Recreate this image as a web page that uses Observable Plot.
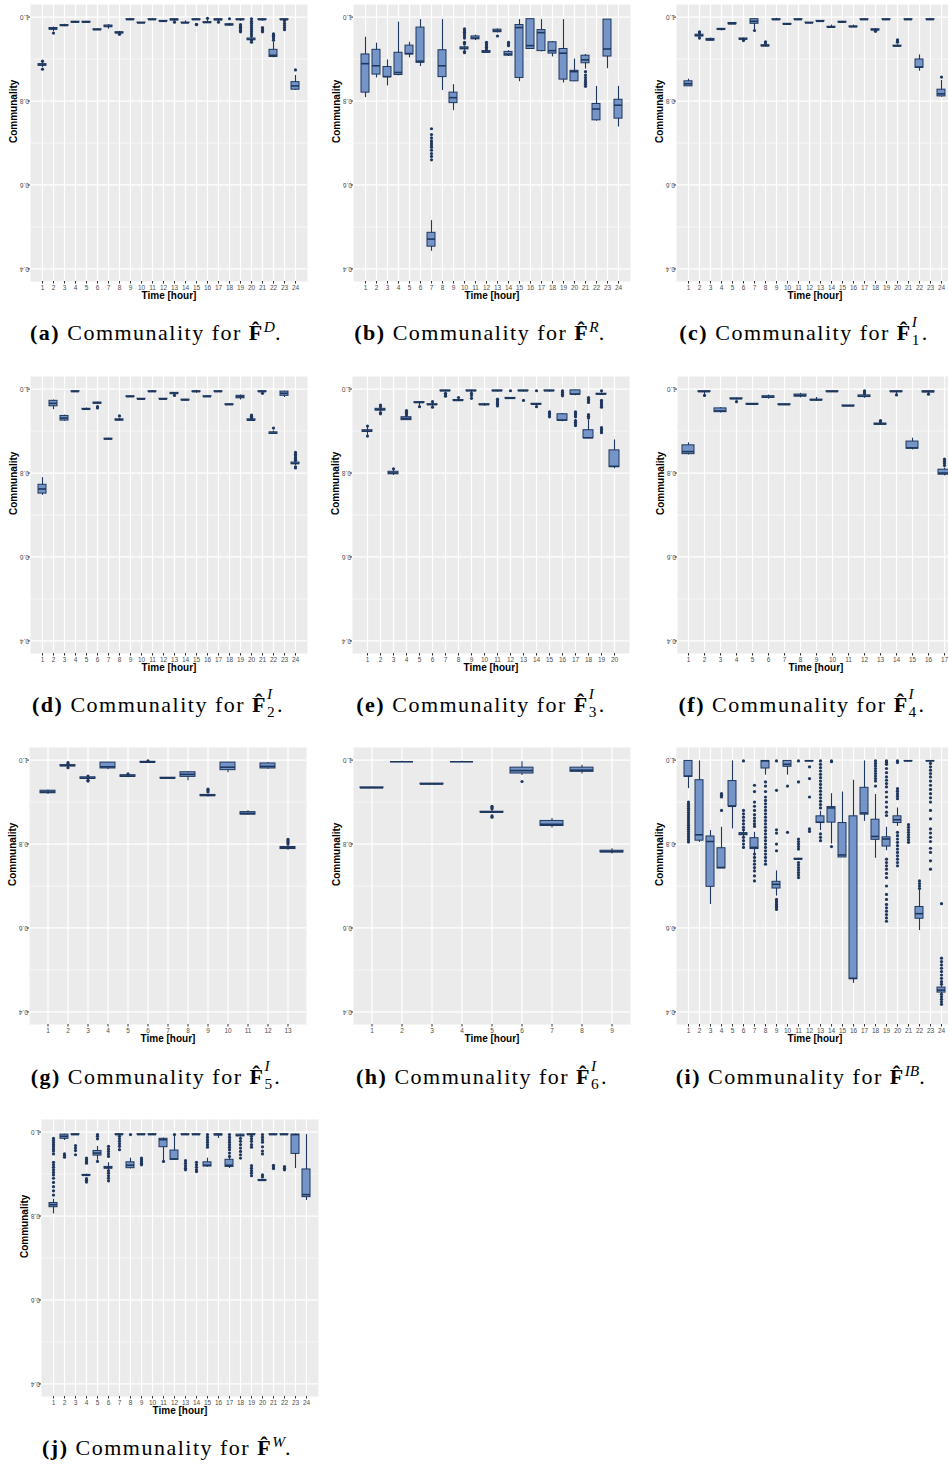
<!DOCTYPE html>
<html><head><meta charset="utf-8">
<script src="https://cdn.jsdelivr.net/npm/d3@7"></script>
<script src="https://cdn.jsdelivr.net/npm/@observablehq/plot@0.6"></script>
<style>
html,body{margin:0;padding:0;background:#fff;}
body{width:948px;height:1465px;overflow:hidden;position:relative;}
.panel{position:absolute;}
.panel svg{max-width:none !important;}
.cap{position:absolute;width:360px;font-family:"Liberation Serif","DejaVu Serif",serif;font-size:22px;letter-spacing:1.5px;line-height:24px;text-align:center;white-space:nowrap;color:#000;}
.cap sup{font-size:0.7em;vertical-align:0.5em;line-height:0;letter-spacing:0;}
.ss{display:inline-block;position:relative;width:0.45em;height:0.75em;vertical-align:baseline;}
.ss .p{position:absolute;left:0;top:-0.6em;font-size:0.7em;line-height:1;font-style:italic;letter-spacing:0;}
.ss .b{position:absolute;left:0;top:0.55em;font-size:0.7em;line-height:1;letter-spacing:0;}
</style></head><body>
<script>
// ---- Data: per hour [lower whisker, Q1, median, Q3, upper whisker]; outliers as [hour, [values]] ----
const boxA = [
[0.880,0.884,0.886,0.888,0.892],[0.965,0.970,0.972,0.974,0.976],[0.977,0.979,0.980,0.981,0.983],[0.985,0.987,0.988,0.989,0.990],
[0.985,0.987,0.988,0.989,0.990],[0.968,0.969,0.970,0.971,0.972],[0.971,0.976,0.978,0.980,0.982],[0.958,0.961,0.963,0.964,0.966],
[0.993,0.994,0.994,0.995,0.995],[0.985,0.986,0.986,0.987,0.987],[0.993,0.994,0.994,0.995,0.995],[0.989,0.990,0.990,0.991,0.991],
[0.987,0.992,0.994,0.995,0.995],[0.985,0.986,0.986,0.987,0.991],[0.992,0.993,0.994,0.995,0.995],[0.985,0.986,0.987,0.988,0.997],
[0.987,0.992,0.994,0.995,0.995],[0.978,0.980,0.982,0.983,0.985],[0.990,0.993,0.994,0.995,0.995],[0.942,0.945,0.947,0.949,0.952],
[0.990,0.993,0.994,0.995,0.995],[0.903,0.905,0.909,0.922,0.940],[0.990,0.993,0.994,0.995,0.995],[0.825,0.827,0.836,0.845,0.861]];
const outA = [[1,[0.895,0.876]],[2,[0.962]],[8,[0.959]],[13,[0.988]],[15,[0.982,0.983]],[16,[0.997]],[17,[0.988]],[18,[0.996]],
[19,[0.982,0.979,0.976,0.972,0.968,0.965]],[20,[0.996,0.990,0.985,0.980,0.975,0.970,0.965,0.960,0.955,0.944,0.940]],
[21,[0.975,0.972,0.968,0.965]],[22,[0.945,0.950,0.954,0.957,0.960]],[23,[0.991,0.985,0.980,0.975,0.970]],[24,[0.874]]];

const boxB = [
[0.808,0.820,0.889,0.911,0.952],[0.855,0.863,0.884,0.922,0.938],[0.836,0.857,0.858,0.881,0.898],[0.860,0.862,0.868,0.915,0.988],
[0.903,0.911,0.913,0.932,0.940],[0.882,0.891,0.895,0.975,0.994],[0.442,0.453,0.471,0.486,0.515],[0.825,0.857,0.884,0.921,0.994],
[0.777,0.795,0.808,0.820,0.839],[0.920,0.923,0.926,0.928,0.931],[0.944,0.947,0.950,0.954,0.957],[0.914,0.915,0.917,0.919,0.921],
[0.962,0.964,0.967,0.970,0.972],[0.906,0.908,0.912,0.917,0.920],[0.846,0.855,0.975,0.981,0.994],[0.924,0.924,0.932,0.995,0.995],
[0.917,0.919,0.963,0.969,0.994],[0.905,0.913,0.920,0.940,0.942],[0.843,0.851,0.914,0.924,0.994],[0.846,0.847,0.870,0.872,0.900],
[0.876,0.890,0.898,0.908,0.911],[0.752,0.754,0.781,0.793,0.835],[0.877,0.906,0.924,0.994,0.994],[0.738,0.758,0.790,0.803,0.835]];
const outB = [[7,[0.734,0.720,0.712,0.705,0.700,0.695,0.690,0.683,0.675,0.668,0.660]],
[10,[0.972,0.968,0.964,0.960,0.955,0.950,0.940,0.936,0.918,0.915]],[12,[0.940,0.936,0.932,0.928,0.924]],[13,[0.955]],
[14,[0.940,0.936,0.932]],[21,[0.870,0.862,0.856,0.850,0.845,0.840,0.835]]];

const boxC = [
[0.835,0.835,0.841,0.847,0.852],[0.948,0.954,0.956,0.958,0.963],[0.943,0.944,0.946,0.948,0.950],[0.967,0.970,0.971,0.972,0.973],
[0.982,0.983,0.984,0.986,0.987],[0.942,0.946,0.948,0.949,0.950],[0.970,0.984,0.990,0.995,0.995],[0.929,0.930,0.932,0.933,0.936],
[0.992,0.993,0.994,0.995,0.997],[0.982,0.982,0.983,0.984,0.984],[0.993,0.994,0.994,0.995,0.995],[0.985,0.986,0.986,0.987,0.987],
[0.989,0.990,0.990,0.991,0.991],[0.974,0.975,0.976,0.977,0.981],[0.986,0.987,0.988,0.989,0.990],[0.975,0.976,0.977,0.978,0.981],
[0.993,0.994,0.994,0.995,0.995],[0.964,0.968,0.970,0.971,0.972],[0.993,0.994,0.994,0.995,0.995],[0.929,0.930,0.931,0.932,0.934],
[0.993,0.994,0.994,0.995,0.995],[0.871,0.879,0.881,0.899,0.910],[0.993,0.994,0.994,0.995,0.995],[0.809,0.811,0.817,0.827,0.849]];
const outC = [[2,[0.962,0.965,0.950]],[6,[0.944]],[7,[0.968]],[8,[0.938,0.941]],[18,[0.966]],[20,[0.940,0.943,0.946]],[24,[0.857]]];

const boxD = [
[0.747,0.751,0.762,0.772,0.789],[0.951,0.959,0.966,0.972,0.974],[0.923,0.925,0.931,0.936,0.938],[0.993,0.994,0.994,0.995,0.995],
[0.950,0.951,0.952,0.953,0.955],[0.963,0.965,0.967,0.968,0.969],[0.879,0.880,0.881,0.882,0.883],[0.924,0.925,0.927,0.928,0.930],
[0.980,0.981,0.982,0.983,0.984],[0.975,0.976,0.976,0.977,0.977],[0.993,0.994,0.994,0.995,0.995],[0.975,0.976,0.976,0.977,0.977],
[0.984,0.988,0.990,0.991,0.992],[0.972,0.973,0.974,0.975,0.976],[0.990,0.993,0.994,0.995,0.997],[0.981,0.982,0.982,0.983,0.983],
[0.993,0.994,0.994,0.995,0.995],[0.962,0.962,0.963,0.964,0.964],[0.974,0.978,0.982,0.984,0.986],[0.924,0.925,0.926,0.928,0.930],
[0.990,0.993,0.994,0.995,0.995],[0.892,0.893,0.895,0.897,0.900],[0.980,0.984,0.990,0.994,0.995],[0.818,0.821,0.823,0.825,0.828]];
const outD = [[6,[0.958,0.955]],[8,[0.936]],[13,[0.985]],[20,[0.932,0.935,0.938]],[21,[0.990]],[22,[0.907]],
[24,[0.849,0.845,0.841,0.837,0.833,0.830,0.815,0.812]]];

const boxE = [
[0.890,0.898,0.900,0.902,0.910],[0.946,0.949,0.951,0.953,0.956],[0.794,0.797,0.800,0.803,0.806],[0.926,0.926,0.930,0.933,0.935],
[0.960,0.967,0.968,0.969,0.970],[0.959,0.962,0.963,0.964,0.966],[0.993,0.995,0.996,0.997,0.997],[0.970,0.972,0.973,0.974,0.976],
[0.990,0.995,0.996,0.997,0.997],[0.959,0.962,0.963,0.964,0.966],[0.993,0.995,0.996,0.997,0.997],[0.976,0.977,0.978,0.979,0.980],
[0.993,0.995,0.996,0.997,0.997],[0.960,0.963,0.964,0.965,0.966],[0.993,0.995,0.996,0.997,0.997],[0.922,0.925,0.926,0.940,0.942],
[0.984,0.987,0.988,0.997,0.997],[0.881,0.883,0.884,0.902,0.926],[0.985,0.987,0.988,0.989,0.991],[0.810,0.814,0.816,0.854,0.879]];
const outE = [[1,[0.912,0.888]],[2,[0.962,0.958,0.941,0.944]],[3,[0.810]],[4,[0.949,0.945,0.941,0.938]],[5,[0.958]],[6,[0.970,0.957]],
[7,[0.990,0.986,0.983]],[8,[0.980]],[9,[0.990,0.985,0.978]],[11,[0.976,0.972,0.968,0.964,0.960]],[12,[0.996]],[13,[0.973]],
[14,[0.996,0.958]],[15,[0.946,0.942,0.938,0.934]],[16,[0.996,0.992,0.988,0.984]],[17,[0.946,0.942,0.938,0.934,0.925,0.921,0.917,0.913]],
[18,[0.939,0.935,0.931,0.980,0.976,0.972,0.968]],[19,[0.996,0.973,0.969,0.965,0.961,0.957,0.908,0.904,0.900,0.896]]];

const boxF = [
[0.843,0.845,0.851,0.866,0.872],[0.982,0.993,0.994,0.995,0.995],[0.943,0.945,0.948,0.954,0.956],[0.974,0.976,0.977,0.978,0.979],
[0.963,0.963,0.964,0.965,0.965],[0.976,0.979,0.981,0.983,0.986],[0.962,0.962,0.963,0.964,0.964],[0.979,0.982,0.985,0.987,0.990],
[0.971,0.973,0.974,0.975,0.980],[0.993,0.994,0.994,0.995,0.995],[0.959,0.959,0.960,0.961,0.961],[0.978,0.981,0.983,0.985,0.987],
[0.914,0.915,0.917,0.918,0.920],[0.984,0.993,0.994,0.995,0.995],[0.855,0.858,0.860,0.875,0.883],[0.986,0.992,0.994,0.995,0.995],
[0.793,0.796,0.800,0.808,0.812]];
const outF = [[2,[0.985]],[4,[0.970]],[12,[0.996,0.993,0.989]],[13,[0.925,0.922]],[14,[0.986]],[16,[0.988]],[17,[0.833,0.828,0.823,0.818]]];

const boxG = [
[0.918,0.921,0.924,0.927,0.929],[0.982,0.985,0.987,0.988,0.990],[0.953,0.955,0.957,0.959,0.961],[0.977,0.980,0.984,0.994,0.995],
[0.958,0.960,0.962,0.964,0.966],[0.992,0.994,0.995,0.996,0.997],[0.956,0.956,0.957,0.958,0.958],[0.951,0.960,0.966,0.971,0.973],
[0.912,0.914,0.916,0.917,0.918],[0.970,0.976,0.983,0.994,0.995],[0.869,0.870,0.873,0.876,0.879],[0.978,0.980,0.985,0.992,0.994],
[0.785,0.788,0.791,0.793,0.796]];
const outG = [[2,[0.994,0.991,0.982]],[3,[0.962,0.952,0.950]],[5,[0.967]],[6,[0.998]],[9,[0.924,0.928,0.931]],[13,[0.800,0.804,0.808,0.811]]];

const boxH = [
[0.933,0.933,0.934,0.935,0.935],[0.995,0.996,0.996,0.996,0.997],[0.941,0.942,0.943,0.944,0.944],[0.995,0.996,0.996,0.996,0.997],
[0.873,0.875,0.876,0.877,0.879],[0.963,0.968,0.975,0.982,0.996],[0.838,0.843,0.847,0.855,0.861],[0.967,0.972,0.976,0.982,0.988],
[0.776,0.780,0.782,0.784,0.789]];
const outH = [[5,[0.890,0.887,0.884,0.867,0.864]],[6,[0.949]]];

const boxI = [
[0.932,0.960,0.962,0.998,0.998],[0.804,0.808,0.822,0.952,0.998],[0.656,0.698,0.806,0.818,0.832],[0.742,0.742,0.744,0.790,0.840],
[0.836,0.890,0.890,0.950,0.998],[0.818,0.821,0.824,0.826,0.830],[0.772,0.788,0.792,0.814,0.828],[0.964,0.980,0.998,0.998,0.998],
[0.676,0.694,0.704,0.710,0.736],[0.964,0.984,0.990,0.998,0.998],[0.762,0.763,0.764,0.765,0.766],[0.996,0.997,0.998,0.998,0.998],
[0.832,0.850,0.852,0.866,0.878],[0.800,0.851,0.886,0.888,0.920],[0.768,0.768,0.774,0.850,0.924],[0.468,0.478,0.480,0.866,0.952],
[0.854,0.870,0.874,0.934,0.998],[0.766,0.810,0.818,0.858,0.918],[0.784,0.794,0.812,0.816,0.840],[0.842,0.850,0.858,0.866,0.886],
[0.996,0.997,0.998,0.998,0.998],[0.594,0.622,0.634,0.650,0.692],[0.996,0.997,0.998,0.998,0.998],[0.440,0.446,0.452,0.458,0.462]];
const outI = [
[1,[0.900,0.895,0.890,0.885,0.880,0.875,0.870,0.865,0.860,0.855,0.850,0.845,0.840,0.835,0.830,0.825,0.820,0.815,0.810,0.805]],
[4,[0.920,0.916,0.912,0.880]],
[6,[0.998,0.880,0.872,0.864,0.856,0.848,0.840,0.834,0.816,0.808,0.800,0.792]],
[7,[0.940,0.925,0.900,0.890,0.880,0.870,0.862,0.855,0.848,0.842,0.776,0.768,0.760,0.752,0.744,0.736,0.724,0.712]],
[8,[0.948,0.938,0.925,0.912,0.904,0.896,0.888,0.880,0.872,0.864,0.856,0.848,0.840,0.832,0.824,0.816,0.808,0.800,0.792,0.784,0.776,0.768,0.760,0.752]],
[9,[0.998,0.928,0.834,0.826,0.800,0.784,0.668,0.664,0.660,0.656,0.652,0.648,0.644]],
[10,[0.938,0.828]],
[11,[0.998,0.948,0.812,0.806,0.800,0.794,0.788,0.756,0.750,0.744,0.738,0.732,0.726,0.720]],
[12,[0.984,0.956,0.912,0.836,0.830]],
[13,[0.998,0.990,0.982,0.974,0.966,0.958,0.950,0.942,0.934,0.926,0.918,0.910,0.902,0.894,0.886,0.824,0.816,0.808]],
[14,[0.998,0.996,0.794]],
[18,[0.998,0.992,0.986,0.980,0.974,0.968,0.962,0.956,0.950,0.938]],
[19,[0.998,0.994,0.990,0.980,0.970,0.960,0.952,0.944,0.936,0.924,0.912,0.900,0.888,0.876,0.868,0.764,0.756,0.748,0.740,0.730,0.720,0.700,0.680,0.668,0.656,0.648,0.640,0.632,0.624,0.616]],
[20,[0.998,0.994,0.932,0.926,0.920,0.914,0.908,0.828,0.820,0.812,0.804,0.796,0.788,0.780,0.772,0.764,0.756,0.748]],
[21,[0.846,0.840,0.834,0.828,0.822,0.816,0.810,0.804]],
[22,[0.712,0.706,0.700,0.694]],
[23,[0.992,0.984,0.976,0.968,0.960,0.950,0.940,0.930,0.920,0.910,0.900,0.880,0.860,0.836,0.826,0.816,0.806,0.790,0.780,0.760,0.740]],
[24,[0.658,0.528,0.520,0.512,0.504,0.496,0.488,0.480,0.472,0.466,0.442,0.436,0.430,0.424,0.418]]];

const boxJ = [
[0.805,0.821,0.827,0.831,0.840],[0.980,0.984,0.990,0.994,0.995],[0.993,0.994,0.994,0.995,0.995],[0.894,0.896,0.897,0.898,0.900],
[0.933,0.944,0.950,0.955,0.966],[0.905,0.913,0.915,0.917,0.927],[0.993,0.994,0.994,0.995,0.995],[0.912,0.914,0.921,0.928,0.938],
[0.993,0.994,0.994,0.995,0.995],[0.993,0.994,0.994,0.995,0.995],[0.930,0.964,0.982,0.984,0.986],[0.934,0.934,0.936,0.956,0.994],
[0.993,0.994,0.994,0.995,0.995],[0.993,0.994,0.994,0.995,0.995],[0.916,0.918,0.921,0.928,0.938],[0.985,0.992,0.994,0.995,0.995],
[0.913,0.917,0.921,0.934,0.943],[0.988,0.990,0.992,0.994,0.995],[0.993,0.994,0.994,0.995,0.995],[0.883,0.884,0.885,0.886,0.887],
[0.993,0.994,0.994,0.995,0.995],[0.993,0.994,0.994,0.995,0.995],[0.913,0.948,0.994,0.994,0.995],[0.837,0.845,0.851,0.911,0.994]];
const outJ = [
[1,[0.985,0.980,0.975,0.970,0.965,0.960,0.955,0.948,0.928,0.922,0.916,0.910,0.904,0.898,0.890,0.880,0.870,0.860,0.850]],
[2,[0.948,0.944,0.940]],[3,[0.968,0.962,0.956,0.946]],[4,[0.938,0.934,0.930,0.926,0.889,0.885,0.881]],[5,[0.994,0.990,0.984,0.930]],
[6,[0.966,0.960,0.954,0.948,0.942,0.908,0.902,0.896,0.890,0.884]],[7,[0.990,0.984,0.978,0.972,0.966,0.958]],[8,[0.994]],
[9,[0.938,0.934,0.930,0.926,0.922]],[11,[0.930]],[12,[0.994]],[13,[0.932,0.926,0.920,0.914,0.910]],[14,[0.928,0.922,0.916,0.910,0.906]],
[15,[0.994,0.988,0.982,0.976,0.970,0.964]],[17,[0.994,0.988,0.982,0.976,0.970,0.964,0.958,0.950,0.942]],
[18,[0.985,0.978,0.970,0.962,0.954,0.946,0.938]],[19,[0.990,0.984,0.978,0.970,0.964,0.920,0.914,0.908,0.902,0.896]],
[20,[0.994,0.988,0.982,0.976,0.965,0.955,0.948,0.898,0.893]],[21,[0.921,0.917,0.913]],[22,[0.918,0.914,0.910]]];

const yTicks = [0.4, 0.6, 0.8, 1.0];
const yMinor = [0.5, 0.7, 0.9];
const yDomain = [0.37, 1.03];
const xLabel = "Time [hour]";
const yLabel = "Communality";

// caption pieces: letter, superscript, subscript
const captions = [
  ["a","D",null],["b","R",null],["c","I","1"],["d","I","2"],["e","I","3"],
  ["f","I","4"],["g","I","5"],["h","I","6"],["i","IB",null],["j","W",null]];

// ---- Layout ----
const FW = 277, FH = 277, ML = 30, MR = 4, MT = 4, MB = 24;
const panels = [
  {box:boxA,out:outA,fx:30, fy:4,   cx:156,cy:321},
  {box:boxB,out:outB,fx:353,fy:4,   cx:480,cy:321},
  {box:boxC,out:outC,fx:676,fy:4,   cx:804,cy:321},
  {box:boxD,out:outD,fx:30, fy:376, cx:158,cy:693},
  {box:boxE,out:outE,fx:352,fy:376, cx:481,cy:693},
  {box:boxF,out:outF,fx:677,fy:376, cx:802,cy:693},
  {box:boxG,out:outG,fx:29, fy:747, cx:156,cy:1065},
  {box:boxH,out:outH,fx:353,fy:747, cx:482,cy:1065},
  {box:boxI,out:outI,fx:676,fy:747, cx:801,cy:1065},
  {box:boxJ,out:outJ,fx:41, fy:1119,cx:167,cy:1436}];

const FILL = "#7595C8", NAVY = "#1E375E";

panels.forEach((p, k) => {
  const hours = p.box.map((_, i) => i + 1);
  const rows = p.box.map((s, i) => ({hour: i + 1, lo: s[0], q1: s[1], med: s[2], q3: s[3], hi: s[4]}));
  const dots = p.out.flatMap(([h, vs]) => vs.map(v => ({hour: h, v})));
  const W = ML + FW + MR, H = MT + FH + MB;
  const chart = Plot.plot({
    width: W, height: H,
    marginLeft: ML, marginRight: MR, marginTop: MT, marginBottom: MB,
    style: {background: "transparent", fontFamily: "'Liberation Sans', Arial, sans-serif", overflow: "visible"},
    x: {type: "band", domain: hours, paddingInner: 0.25, paddingOuter: 0.225, axis: null},
    y: {domain: yDomain, axis: null},
    marks: [
      Plot.frame({fill: "#EBEBEB", stroke: "none"}),
      Plot.ruleY(yMinor, {stroke: "white", strokeWidth: 0.6}),
      Plot.ruleY(yTicks, {stroke: "white", strokeWidth: 1.2}),
      Plot.ruleX(hours, {x: d => d, stroke: "white", strokeWidth: 1.2}),
      Plot.axisX({tickSize: 2.5, tickPadding: 1, fontSize: 6.5, stroke: "#333", fill: "#4D4D4D", label: null}),
      Plot.axisY({ticks: yTicks, tickSize: 2.5, stroke: "#333", fill: "none", label: null}),
      Plot.text(yTicks, {y: d => d, text: d => d.toFixed(1), frameAnchor: "left", dx: -6, rotate: 180,
        textAnchor: "middle", fontSize: 6.5, fill: "#4D4D4D"}),
      Plot.text([xLabel], {frameAnchor: "bottom", dy: 17, fontSize: 10, fontWeight: "bold", fill: "#000"}),
      Plot.text([yLabel], {frameAnchor: "left", dx: -17, rotate: -90, fontSize: 10, fontWeight: "bold", fill: "#000"}),
      Plot.ruleX(rows, {x: "hour", y1: "lo", y2: "hi", stroke: NAVY, strokeWidth: 1.1}),
      Plot.barY(rows, {x: "hour", y1: "q1", y2: "q3", fill: FILL, stroke: NAVY, strokeWidth: 1}),
      Plot.tickY(rows, {x: "hour", y: "med", stroke: NAVY, strokeWidth: 1.6}),
      Plot.dot(dots, {x: "hour", y: "v", r: 1.6, fill: NAVY, stroke: "none"})
    ]
  });
  const wrap = document.createElement("div");
  wrap.className = "panel";
  wrap.style.left = (p.fx - ML) + "px";
  wrap.style.top = (p.fy - MT) + "px";
  wrap.style.width = W + "px";
  wrap.style.height = H + "px";
  chart.style.maxWidth = "none";
  chart.style.width = W + "px";
  chart.style.height = H + "px";
  wrap.appendChild(chart);
  document.body.appendChild(wrap);

  const [letter, sup, sub] = captions[k];
  const cap = document.createElement("div");
  cap.className = "cap";
  cap.style.left = (p.cx - 180) + "px";
  cap.style.top = p.cy + "px";
  const script = sub
    ? `<span class="ss"><span class="p">${sup}</span><span class="b">${sub}</span></span>`
    : `<sup><i>${sup}</i></sup>`;
  cap.innerHTML = `<b>(${letter})</b> Communality for <b>F&#770;</b>${script}.`;
  document.body.appendChild(cap);
});
</script>
</body></html>
